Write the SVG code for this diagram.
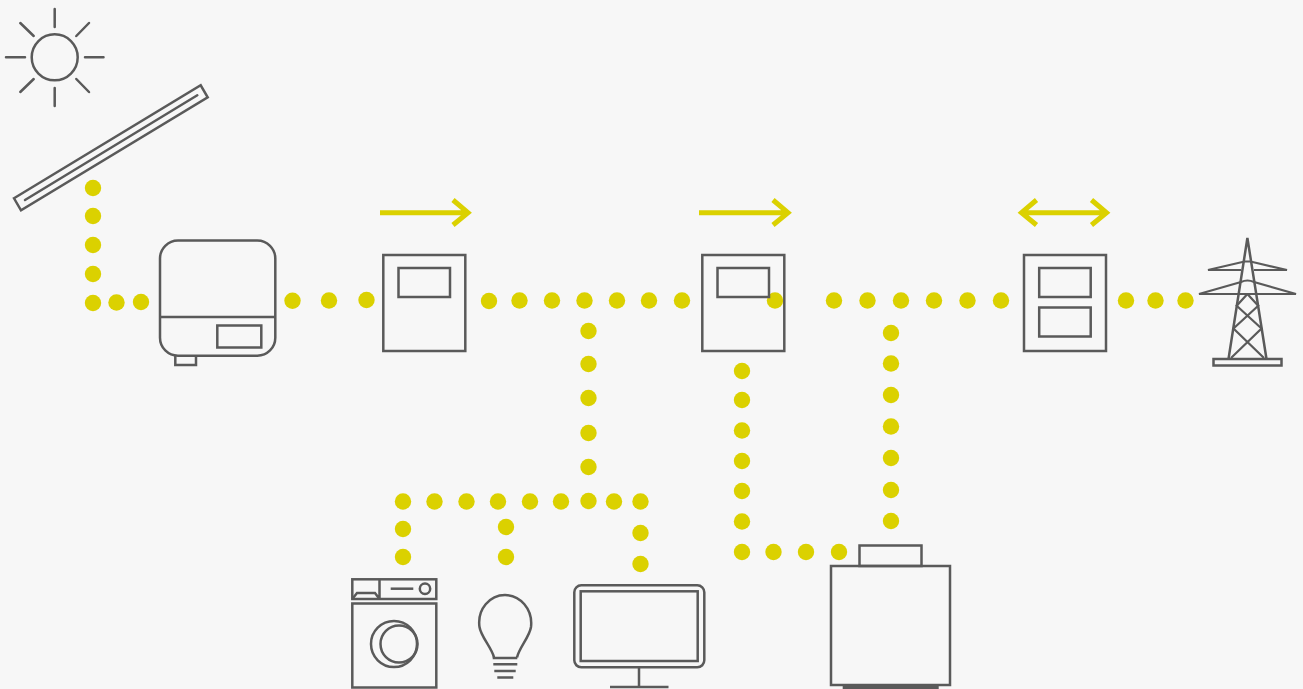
<svg xmlns="http://www.w3.org/2000/svg" width="1303" height="689" viewBox="0 0 1303 689">
<defs>
<style>
.s{fill:none;stroke:#5a5a5a;stroke-width:2.5}
.r{fill:none;stroke:#5a5a5a;stroke-width:2.5;stroke-linecap:round}
.a{fill:none;stroke:#dbd100;stroke-width:5}
.d circle{fill:#dbd100}
</style>
</defs>
<rect width="1303" height="689" fill="#f7f7f7"/>
<g id="connectors" class="d">
<circle cx="93" cy="188" r="8.2"/><circle cx="93" cy="216" r="8.2"/><circle cx="93" cy="245" r="8.2"/><circle cx="93" cy="274" r="8.2"/><circle cx="93" cy="303" r="8.2"/><circle cx="116.500" cy="302.500" r="8.200"/><circle cx="141" cy="302" r="8.200"/>
<circle cx="292.500" cy="300.800" r="8.200"/><circle cx="329" cy="300.500" r="8.200"/><circle cx="366.500" cy="300" r="8.200"/>
<circle cx="489" cy="301" r="8.200"/><circle cx="519.500" cy="300.500" r="8.200"/><circle cx="552" cy="300.500" r="8.200"/><circle cx="584.500" cy="300.500" r="8.200"/><circle cx="617" cy="300.500" r="8.200"/><circle cx="649" cy="300.500" r="8.200"/><circle cx="682" cy="300.500" r="8.200"/>
<circle cx="588.500" cy="331" r="8.200"/><circle cx="588.500" cy="364" r="8.200"/><circle cx="588.500" cy="398" r="8.200"/><circle cx="588.500" cy="433" r="8.200"/><circle cx="588.500" cy="467" r="8.200"/>
<circle cx="403" cy="501.500" r="8.200"/><circle cx="434.500" cy="501.500" r="8.200"/><circle cx="466.500" cy="501.500" r="8.200"/><circle cx="498" cy="501.500" r="8.200"/><circle cx="530" cy="501.500" r="8.200"/><circle cx="561" cy="501.500" r="8.200"/><circle cx="588.500" cy="501" r="8.200"/><circle cx="614" cy="501.500" r="8.200"/><circle cx="640.500" cy="501.500" r="8.200"/>
<circle cx="403" cy="529" r="8.200"/><circle cx="403" cy="557" r="8.200"/><circle cx="506" cy="527" r="8.200"/><circle cx="506" cy="557" r="8.200"/><circle cx="640.500" cy="533" r="8.200"/><circle cx="640.500" cy="564" r="8.200"/>
<circle cx="742" cy="371" r="8.200"/><circle cx="742" cy="400" r="8.200"/><circle cx="742" cy="430.500" r="8.200"/><circle cx="742" cy="461" r="8.200"/><circle cx="742" cy="491" r="8.200"/><circle cx="742" cy="521.500" r="8.200"/><circle cx="742" cy="552" r="8.200"/><circle cx="773.500" cy="552" r="8.200"/><circle cx="806" cy="552" r="8.200"/><circle cx="839" cy="552" r="8.200"/>
<circle cx="775" cy="300.500" r="8.200"/><circle cx="834" cy="300.500" r="8.200"/><circle cx="867.500" cy="300.500" r="8.200"/><circle cx="901" cy="300.500" r="8.200"/><circle cx="934" cy="300.500" r="8.200"/><circle cx="967.500" cy="300.500" r="8.200"/><circle cx="1001" cy="300.500" r="8.200"/>
<circle cx="891" cy="333" r="8.200"/><circle cx="891" cy="363.500" r="8.200"/><circle cx="891" cy="395" r="8.200"/><circle cx="891" cy="426.500" r="8.200"/><circle cx="891" cy="458" r="8.200"/><circle cx="891" cy="490" r="8.200"/><circle cx="891" cy="521" r="8.200"/>
<circle cx="1126" cy="300.500" r="8.200"/><circle cx="1155.500" cy="300.500" r="8.200"/><circle cx="1185.500" cy="300.500" r="8.200"/>
</g>
<g id="sun" class="r">
<circle cx="54.700" cy="57.300" r="23"/>
<path d="M54.700 9V27M54.700 88V106M6 57.300H25M85 57.300H103.500M20.300 23L33.700 36M89 23L76.300 36M20.300 92L33.700 79M89 92L76.300 79"/>
</g>
<g id="solar-panel" class="s">
<path d="M14 198.300L200.700 85.300L207.700 97.300L21 210.300Z"/>
<path d="M25 200L197.300 95.300" stroke-linecap="round"/>
</g>
<g id="inverter" class="s">
<rect x="160" y="240.500" width="115.300" height="115.200" rx="18"/>
<path d="M160 317H275.300"/>
<rect x="217.300" y="325.500" width="44" height="22"/>
<path d="M175.300 355.700V365H196V355.700"/>
</g>
<g id="meter-1" class="s">
<rect x="383.300" y="255" width="82" height="96"/>
<rect x="398.500" y="268" width="51.500" height="29"/>
</g>
<g id="arrow-1" class="a"><path d="M380 212.700H467M453 200L468 212.700L453 225"/></g>
<g id="meter-2" class="s">
<rect x="702.300" y="255" width="82" height="96"/>
<rect x="717.500" y="268" width="51.500" height="29"/>
</g>
<g id="arrow-2" class="a"><path d="M699 212.700H787M773 200L788 212.700L773 225"/></g>
<g id="meter-3" class="s">
<rect x="1024" y="255" width="82" height="96"/>
<rect x="1039.200" y="268" width="51.500" height="29"/>
<rect x="1039.200" y="307.500" width="51.500" height="29"/>
</g>
<g id="arrow-3" class="a"><path d="M1023 212.700H1107M1036.500 200L1021.500 212.700L1036.500 225M1091.500 200L1106.500 212.700L1091.500 225"/></g>
<g id="pylon" class="s">
<rect x="1213.500" y="359" width="68" height="6.500"/>
<path d="M1228.500 359L1247.400 238L1266.500 359" stroke-linejoin="miter"/>
<path d="M1241 270H1208L1244.500 261.500H1250.500L1287 270H1254" stroke-width="2.200"/>
<path d="M1236 294H1199L1241 282Q1247.400 279 1254 282L1296 294H1259M1236 294H1259" stroke-width="2.200"/>
<path d="M1247.400 294L1236.700 305.700L1261.500 328.500L1231 358M1247.400 294L1258.200 305.700L1233.500 328.500L1264 358" stroke-width="2.200"/>
</g>
<g id="washing-machine" class="s">
<rect x="352.300" y="579.300" width="84" height="19.700"/>
<rect x="352.300" y="603.500" width="84" height="84"/>
<path d="M379.500 579.300V599M352.300 599L357 593H375L379.500 599"/>
<path d="M390.700 588.700H413.300"/>
<circle cx="425" cy="588.700" r="5.200"/>
<circle cx="394" cy="644" r="23"/>
<circle cx="399" cy="644" r="18.500"/>
</g>
<g id="lamp" class="s">
<path d="M494 657.500C492 648 481 637 479.500 627C477 609 490 595 505 595C520 595 533 609 531 627C529.500 637 519 648 517 657.500"/>
<path d="M492.700 658H517.300M493.300 664.300H517.300M494.300 671H515.700M497.300 677.500H513.300"/>
</g>
<g id="monitor" class="s">
<rect x="574.300" y="585.300" width="130" height="82" rx="7"/>
<rect x="580.700" y="591.300" width="117" height="69.700"/>
<path d="M639 667.300V687M610 687H668.500"/>
</g>
<g id="battery" class="s">
<rect x="859.500" y="545.500" width="62" height="20.500"/>
<rect x="831" y="566" width="119" height="119"/>
<rect x="842.700" y="685" width="96" height="4" fill="#5a5a5a" stroke="none"/>
</g>
</svg>
